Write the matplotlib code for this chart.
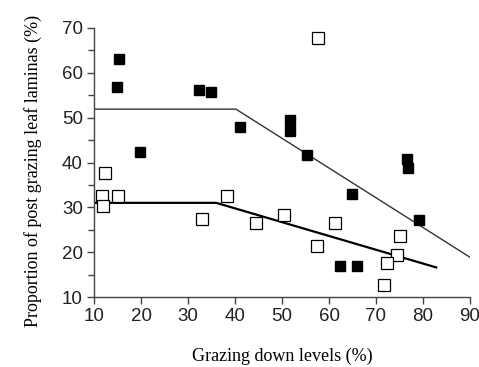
import numpy as np
import matplotlib
matplotlib.use('Agg')
import matplotlib.pyplot as plt
from matplotlib.ticker import MultipleLocator

# filled squares
filled_x = [15.4, 14.8, 19.8, 32.3, 34.8, 41.1, 51.6, 51.6, 55.3, 76.7, 76.9, 64.9, 79.2, 62.3, 66.0]
filled_y = [63.1, 56.9, 42.3, 56.1, 55.8, 47.9, 49.4, 47.0, 41.7, 40.8, 38.8, 32.9, 27.1, 16.9, 16.9]

# open squares
open_x = [57.7, 12.3, 11.8, 15.0, 12.0, 33.0, 38.2, 44.5, 50.4, 57.5, 61.2, 75.0, 74.5, 72.3, 71.6]
open_y = [67.8, 37.7, 32.6, 32.6, 30.3, 27.3, 32.6, 26.4, 28.3, 21.3, 26.4, 23.7, 19.3, 17.6, 12.6]

# broken-line fits
upper_x = [10, 40.2, 90.1]
upper_y = [51.9, 51.9, 18.8]
lower_x = [10, 36.0, 82.8]
lower_y = [31.0, 31.0, 16.6]

fig = plt.figure(figsize=(4.79, 3.67), dpi=100)
ax = fig.add_axes([94/479, 70/367, 376/479, 269/367])

ax.plot(upper_x, upper_y, color='#333333', lw=1.0, zorder=2)
ax.plot(lower_x, lower_y, color='black', lw=1.6, zorder=2)
ax.plot(filled_x, filled_y, 's', color='black', ms=7.5, zorder=3, clip_on=False)
ax.plot(open_x, open_y, 's', mfc='white', mec='black', mew=0.9, ms=8, zorder=3, clip_on=False)

ax.set_xlim(10, 90)
ax.set_ylim(10, 70)
ax.xaxis.set_major_locator(MultipleLocator(10))
ax.yaxis.set_major_locator(MultipleLocator(10))
ax.yaxis.set_minor_locator(MultipleLocator(5))

for s in ['top', 'right']:
    ax.spines[s].set_visible(False)
for s in ['left', 'bottom']:
    ax.spines[s].set_color('#444444')
    ax.spines[s].set_linewidth(1.0)

ax.tick_params(which='major', direction='out', length=5, width=1, color='#444444',
               labelsize=13.5, pad=3, labelcolor='#222222')
ax.tick_params(which='minor', direction='out', length=4, width=1, color='#444444')
for lab in ax.get_xticklabels() + ax.get_yticklabels():
    lab.set_fontfamily('Liberation Sans')

ax.set_xlabel('Grazing down levels (%)', family='Liberation Serif', fontsize=13, labelpad=16)
ax.set_ylabel('Proportion of post grazing leaf laminas (%)', family='Liberation Serif',
              fontsize=13)
ax.yaxis.set_label_coords(-0.138, 0.47)

fig.savefig('out.png', dpi=100)
